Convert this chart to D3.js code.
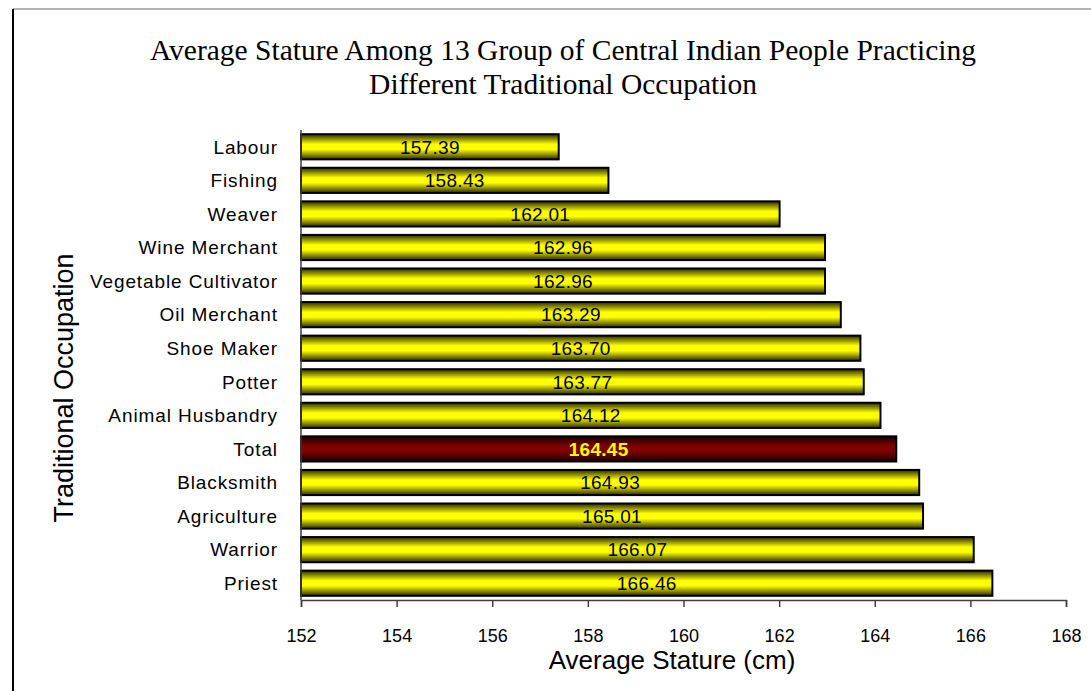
<!doctype html>
<html>
<head>
<meta charset="utf-8">
<style>
  body { margin: 0; background: #fff; }
  svg { display: block; }
  .cat { font: 19px "Liberation Sans", Arial, sans-serif; letter-spacing: 0.9px; fill: #000; }
  .val { font: 19px "Liberation Sans", Arial, sans-serif; letter-spacing: 0.3px; }
  .xaxis text { font: 18px "Liberation Sans", Arial, sans-serif; fill: #000; }
  .xaxis path, .xaxis line { stroke: #404040; stroke-width: 1.5; }
</style>
<script src="https://d3js.org/d3.v7.min.js"></script>
</head>
<body>
<svg width="1091" height="691"></svg>
<script>
// chart data
var occupations = ["Labour", "Fishing", "Weaver", "Wine Merchant", "Vegetable Cultivator",
                   "Oil Merchant", "Shoe Maker", "Potter", "Animal Husbandry", "Total",
                   "Blacksmith", "Agriculture", "Warrior", "Priest"];
var stature = [157.39, 158.43, 162.01, 162.96, 162.96, 163.29, 163.70, 163.77,
               164.12, 164.45, 164.93, 165.01, 166.07, 166.46];
var xTicks = [152, 154, 156, 158, 160, 162, 164, 166, 168];
var highlight = "Total";

var svg = d3.select("svg");

var x = d3.scaleLinear().domain([152, 168]).range([301, 1066]);
var y = d3.scaleBand().domain(occupations).range([130, 600]).paddingInner(0.25).paddingOuter(0.125);

// gradients for the bar fill
var defs = svg.append("defs");
function grad(id, edge, mid) {
    var g = defs.append("linearGradient").attr("id", id)
        .attr("x1", 0).attr("y1", 0).attr("x2", 0).attr("y2", 1);
    g.append("stop").attr("offset", "0%").attr("stop-color", edge);
    g.append("stop").attr("offset", "40%").attr("stop-color", mid);
    g.append("stop").attr("offset", "60%").attr("stop-color", mid);
    g.append("stop").attr("offset", "100%").attr("stop-color", edge);
}
grad("gYellow", "#2a2a00", "#ffff00");
grad("gRed", "#1a0000", "#800000");

// frame
svg.append("line").attr("x1", 13).attr("y1", 9).attr("x2", 1091).attr("y2", 9)
   .attr("stroke", "#999").attr("stroke-width", 1.5);
svg.append("line").attr("x1", 13).attr("y1", 9).attr("x2", 13).attr("y2", 691)
   .attr("stroke", "#000").attr("stroke-width", 2);

// title
var title = svg.append("text")
   .attr("text-anchor", "middle")
   .style("font", "29.5px 'Liberation Serif', 'Times New Roman', serif");
title.append("tspan").attr("x", 563).attr("y", 60).text("Average Stature Among 13 Group of Central Indian People Practicing");
title.append("tspan").attr("x", 563).attr("y", 94).text("Different Traditional Occupation");

// bars
svg.selectAll(".bar")
   .data(occupations)
   .enter().append("rect")
   .attr("class", "bar")
   .attr("x", x(152))
   .attr("y", function(d) { return y(d); })
   .attr("width", function(d, i) { return x(stature[i]) - x(152); })
   .attr("height", y.bandwidth())
   .attr("fill", function(d) { return d == highlight ? "url(#gRed)" : "url(#gYellow)"; })
   .attr("stroke", "#000")
   .attr("stroke-width", 2);

// value labels
svg.selectAll(".val")
   .data(occupations)
   .enter().append("text")
   .attr("class", "val")
   .attr("x", function(d, i) { return (x(152) + x(stature[i])) / 2; })
   .attr("y", function(d) { return y(d) + y.bandwidth() / 2; })
   .attr("dy", "0.36em")
   .attr("text-anchor", "middle")
   .attr("fill", function(d) { return d == highlight ? "#ffff00" : "#000"; })
   .style("font-weight", function(d) { return d == highlight ? "bold" : "normal"; })
   .text(function(d, i) { return stature[i].toFixed(2); });

// category labels
svg.selectAll(".cat")
   .data(occupations)
   .enter().append("text")
   .attr("class", "cat")
   .attr("x", 278)
   .attr("y", function(d) { return y(d) + y.bandwidth() / 2; })
   .attr("dy", "0.36em")
   .attr("text-anchor", "end")
   .text(function(d) { return d; });

// y axis line
svg.append("line").attr("x1", 301).attr("y1", 130).attr("x2", 301).attr("y2", 600)
   .attr("stroke", "#404040").attr("stroke-width", 1.5);

// x axis
svg.append("g")
   .attr("class", "xaxis")
   .attr("transform", "translate(0,600)")
   .call(d3.axisBottom(x).tickValues(xTicks).tickSize(7).tickSizeOuter(7).tickPadding(22))
   .selectAll("text").attr("font-family", null).attr("font-size", null);

// axis titles
svg.append("text")
   .attr("x", 672).attr("y", 669)
   .attr("text-anchor", "middle")
   .style("font", "26px 'Liberation Sans', Arial, sans-serif")
   .text("Average Stature (cm)");

svg.append("text")
   .attr("transform", "translate(73,388) rotate(-90)")
   .attr("text-anchor", "middle")
   .style("font", "27px 'Liberation Sans', Arial, sans-serif")
   .text("Traditional Occupation");
</script>
</body>
</html>
